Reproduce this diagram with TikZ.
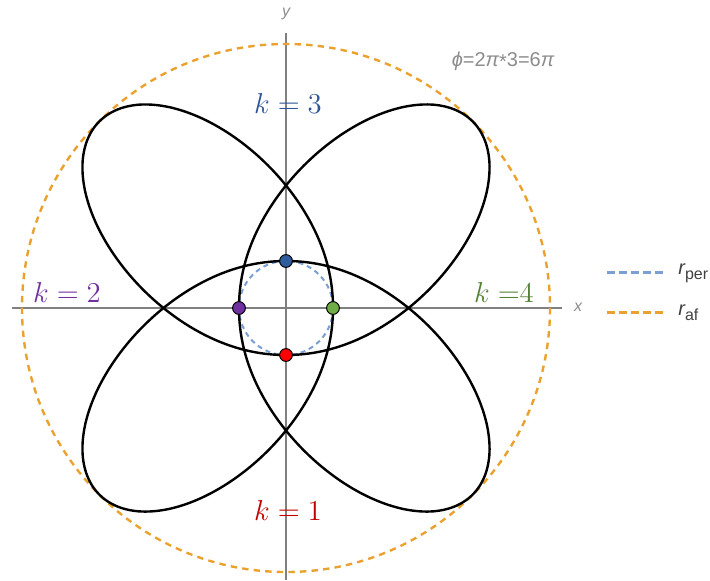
\documentclass[tikz,border=0pt]{standalone}
\usepackage{fontspec}
\newfontfamily\lsans{Liberation Sans}
\definecolor{orb}{HTML}{EAA12E}
\definecolor{perb}{HTML}{7B9FD3}
\definecolor{axg}{HTML}{808080}
\definecolor{lblg}{HTML}{8C8C8C}
\definecolor{legt}{HTML}{404040}
\definecolor{kblue}{HTML}{2F5597}
\definecolor{kpurp}{HTML}{7030A0}
\definecolor{kgreen}{HTML}{548235}
\definecolor{kred}{HTML}{C00000}
\definecolor{pblue}{HTML}{2E5C9E}
\definecolor{pgreen}{HTML}{70AD47}
\definecolor{pred}{HTML}{FF0000}
\begin{document}
\begin{tikzpicture}[x=0.5pt,y=-0.5pt,
  axisline/.style={draw=axg,line width=0.75pt},
  orbitline/.style={draw=black,line width=1.2pt,line join=round},
  afline/.style={draw=orb,line width=1.2pt,dash pattern=on 3.2pt off 2.6pt},
  perline/.style={draw=perb,line width=1pt,dash pattern=on 2.5pt off 2pt},
  legaf/.style={draw=orb,line width=1.5pt,dash pattern=on 4pt off 2pt},
  legper/.style={draw=perb,line width=1.5pt,dash pattern=on 4pt off 2pt},
  apsis/.style={circle,draw=black,line width=0.5pt,minimum size=6.4pt,inner sep=0pt},
  klabel/.style={font=\Large,inner sep=0pt},
  axlabel/.style={font=\lsans\itshape\fontsize{8}{9}\selectfont,text=lblg,inner sep=0pt},
  legtext/.style={font=\lsans,text=legt,anchor=west,inner sep=0pt}]
\useasboundingbox (0,0) rectangle (710,580);
% axes
\coordinate (O) at (286,308);
\coordinate (xl) at (12,308);
\coordinate (xr) at (562,308);
\coordinate (yt) at (286,33);
\coordinate (yb) at (286,580);
\draw[axisline] (xl) -- (xr);
\draw[axisline] (yt) -- (yb);
\node[axlabel] (xlab) at (578,307) {x};
\node[axlabel] (ylab) at (286,14) {y};
% apoapsis circle and periapsis circle
\draw[afline] (O) circle[radius=264];
\draw[perline] (O) circle[radius=47];
% precessing orbit
\draw[orbitline] plot[domain=180:1260,samples=901,smooth,variable=\t]
  ({286+79.8/(1+0.6977*cos(4/3*(\t-180)))*cos(\t)},
   {308-79.8/(1+0.6977*cos(4/3*(\t-180)))*sin(\t)});
% periapsis points
\node[apsis,fill=pblue] (p3) at (286,261) {};
\node[apsis,fill=kpurp] (p2) at (239,308) {};
\node[apsis,fill=pgreen] (p4) at (333,308) {};
\node[apsis,fill=pred] (p1) at (286,355) {};
% k labels
\node[klabel,text=kblue] (k3) at (288,103) {$k=3$};
\node[klabel,text=kpurp] (k2) at (67,292) {$k=2$};
\node[klabel,text=kgreen] (k4) at (504,292) {$k\;{=}4$};
\node[klabel,text=kred] (k1) at (288,510) {$k=1$};
% phi label
\node[font=\lsans\fontsize{10}{12}\selectfont,text=lblg,inner sep=0pt] (phi) at (503,61)
  {\itshape ϕ\upshape =2\itshape π\upshape\raisebox{-0.25ex}{*}3=6\itshape π};
% legend
\coordinate (lp1) at (607,272);
\coordinate (lp2) at (663,272);
\coordinate (la1) at (607,312);
\coordinate (la2) at (663,312);
\draw[legper] (lp1) -- (lp2);
\draw[legaf] (la1) -- (la2);
\node[legtext] (rper) at (678,273) {\fontsize{10}{12}\selectfont\itshape r\upshape\raisebox{-0.45ex}{\fontsize{8}{9}\selectfont per}};
\node[legtext] (raf) at (678,313) {\fontsize{10}{12}\selectfont\itshape r\upshape\raisebox{-0.45ex}{\fontsize{8}{9}\selectfont af}};
\end{tikzpicture}
\end{document}
